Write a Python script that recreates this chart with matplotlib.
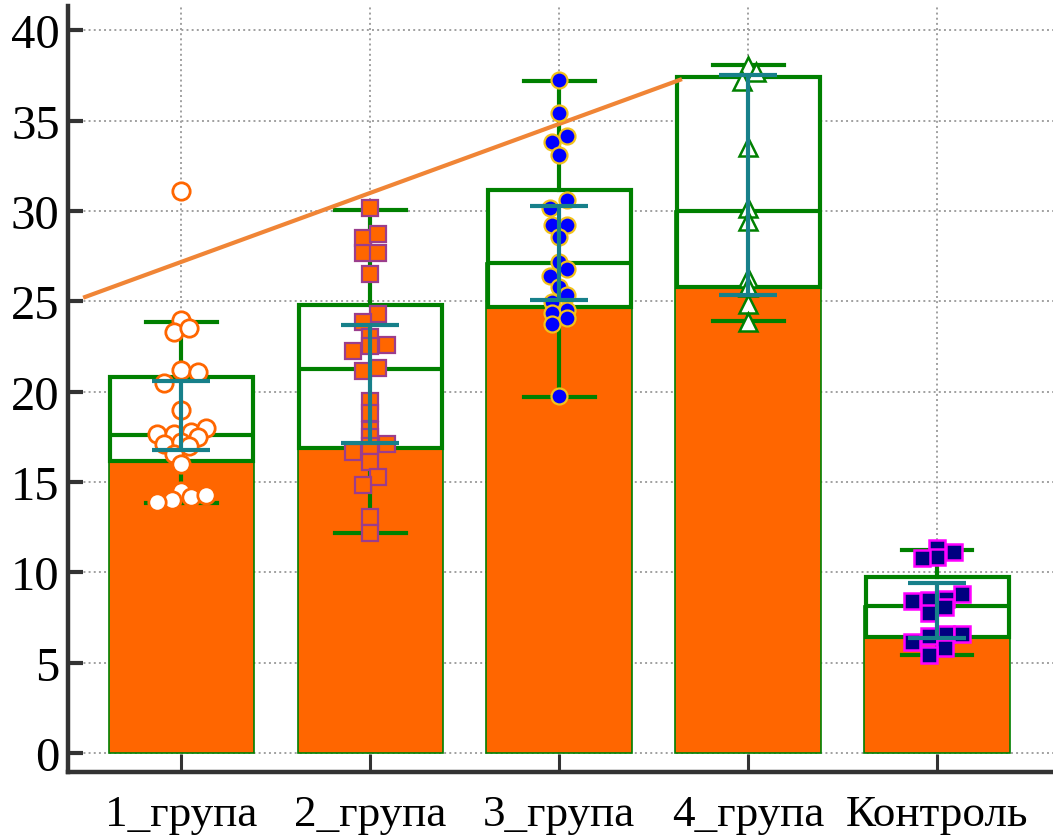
import matplotlib
matplotlib.use('Agg')
import matplotlib.pyplot as plt
import numpy as np

plt.rcParams['font.family'] = ['Liberation Serif', 'DejaVu Serif']

groups = ['1_група', '2_група', '3_група', '4_група', 'Контроль']

# box statistics per group
q1 = [16.15, 16.9, 24.7, 25.8, 6.42]
median = [17.6, 21.25, 27.1, 30.0, 8.13]
q3 = [20.8, 24.8, 31.15, 37.4, 9.74]
whisk_lo = [13.83, 12.17, 19.7, 23.9, 5.42]
whisk_hi = [23.85, 30.05, 37.2, 38.07, 11.23]

# mean +/- SD
mean_vals = [18.69, 20.43, 27.7, 31.43, 7.88]
sd_vals = [1.92, 3.28, 2.6, 6.08, 1.53]

# individual observations (value, horizontal jitter)
pts_1 = [31.1, 23.96, 23.3, 23.5, 21.2, 21.1, 20.5, 19.0, 17.65, 17.65, 17.75, 18.0,
         17.1, 17.2, 17.5, 17.0, 16.55, 16.0, 14.5, 14.15, 14.3, 14.0, 13.9]
jit_1 = [0, 0, -0.04, 0.04, 0, 0.09, -0.09, 0, -0.13, -0.04, 0.05, 0.13,
         -0.09, 0, 0.09, 0.04, -0.04, 0, 0, 0.05, 0.13, -0.05, -0.13]
pts_2 = [30.15, 28.5, 28.7, 27.7, 27.7, 26.5, 24.3, 23.85, 23.0, 22.5, 22.25, 22.6,
         21.15, 21.3, 19.5, 18.8, 17.9, 17.5, 17.0, 17.1, 16.65, 16.1, 15.3, 14.85,
         13.05, 12.2]
jit_2 = [0, -0.04, 0.04, -0.04, 0.04, 0, 0.04, -0.04, 0, 0, -0.09, 0.09,
         -0.04, 0.04, 0, 0, 0, 0, 0, 0.09, -0.09, 0, 0.04, -0.04, 0, 0]
pts_3 = [37.25, 35.4, 33.8, 34.15, 33.1, 30.6, 30.15, 29.2, 29.2, 28.55, 27.2, 26.8,
         26.4, 25.8, 25.35, 24.95, 24.5, 24.35, 24.1, 23.75, 19.75]
jit_3 = [0, 0, -0.04, 0.04, 0, 0.04, -0.05, -0.04, 0.04, 0, 0, 0.04,
         -0.05, 0, 0.04, -0.04, 0.04, -0.04, 0.04, -0.04, 0]
pts_4 = [38.0, 37.7, 37.2, 33.55, 30.15, 29.45, 26.3, 25.8, 24.85, 23.85]
jit_4 = [0, 0.04, -0.03, 0, 0, 0, 0, 0, 0, 0]
pts_c = [11.35, 10.85, 11.1, 10.8, 8.8, 8.4, 8.45, 8.5, 8.1, 7.75, 6.15, 6.5, 6.6,
         6.6, 5.8, 5.4]
jit_c = [0, 0, 0.09, -0.08, 0.13, -0.13, -0.04, 0.05, 0.04, -0.04, -0.13, -0.04,
         0.05, 0.13, 0.04, -0.04]

# trend line end points
trend_x = [-0.52, 2.65]
trend_y = [25.2, 37.3]

orange = '#FF6600'
green = '#008000'
teal = '#17808A'

fig = plt.figure(figsize=(10.53, 8.37), dpi=100)
ax = fig.add_axes([0.0646, 0.0765, 0.9354, 0.915])

x = np.arange(len(groups))

ax.bar(x, median, width=0.77, color=orange, edgecolor=green, linewidth=1.2, zorder=2)

stats = []
for i in range(len(groups)):
    stats.append(dict(med=median[i], q1=q1[i], q3=q3[i],
                      whislo=whisk_lo[i], whishi=whisk_hi[i], fliers=[]))
ax.bxp(stats, positions=x, widths=0.757, capwidths=0.375, showfliers=False,
       patch_artist=True, manage_ticks=False,
       boxprops=dict(facecolor='white', edgecolor=green, linewidth=3),
       medianprops=dict(color=green, linewidth=3),
       whiskerprops=dict(color=green, linewidth=3),
       capprops=dict(color=green, linewidth=3), zorder=3)

ax.plot(trend_x, trend_y, color='#F08536', linewidth=3, zorder=3.5, solid_capstyle='butt')

styles = [
    (pts_1, jit_1, dict(marker='o', markersize=12.5, markerfacecolor='white',
                        markeredgecolor=orange, markeredgewidth=2)),
    (pts_2, jit_2, dict(marker='s', markersize=12, markerfacecolor=orange,
                        markeredgecolor='#9B3D8C', markeredgewidth=1.6)),
    (pts_3, jit_3, dict(marker='o', markersize=11.5, markerfacecolor='#0000FF',
                        markeredgecolor='#F2C21A', markeredgewidth=1.6)),
    (pts_4, jit_4, dict(marker='^', markersize=13.5, markerfacecolor='white',
                        markeredgecolor=green, markeredgewidth=1.8)),
    (pts_c, jit_c, dict(marker='s', markersize=12, markerfacecolor='#000080',
                        markeredgecolor='#FF00FF', markeredgewidth=1.8)),
]
for i, (vals, jit, st) in enumerate(styles):
    ax.plot(i + np.array(jit), vals, linestyle='none', zorder=4, **st)

ax.errorbar(x, mean_vals, yerr=sd_vals, fmt='none', ecolor=teal, elinewidth=3,
            capsize=21, capthick=3, zorder=5)

ax.set_xlim(-0.6, 4.614)
ax.set_ylim(-1.05, 41.34)
ax.set_yticks(np.arange(0, 41, 5))
ax.set_xticks(x)
ax.set_xticklabels(groups)

ax.grid(True, color='#A0A0A0', linestyle=':', linewidth=1.4, zorder=0)
ax.set_axisbelow(True)

for s in ['top', 'right']:
    ax.spines[s].set_visible(False)
for s in ['left', 'bottom']:
    ax.spines[s].set_color('#333333')
    ax.spines[s].set_linewidth(3.2)

ax.tick_params(axis='y', direction='in', length=11, width=3, color='#333333',
               labelsize=35, pad=6)
ax.tick_params(axis='x', direction='in', length=13, width=2.2, color='#333333',
               labelsize=32.5, pad=16)

fig.savefig('out.png', dpi=100)
